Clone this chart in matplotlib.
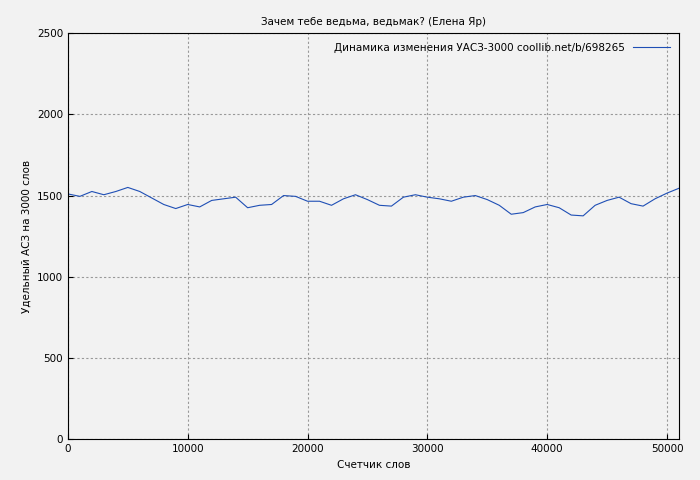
import matplotlib
matplotlib.use("Agg")
import matplotlib.pyplot as plt

words = list(range(0, 52000, 1000))
values = [1510, 1495, 1525, 1505, 1525, 1550, 1525, 1485, 1445, 1420,
          1445, 1430, 1470, 1480, 1490, 1425, 1440, 1445, 1500, 1495,
          1465, 1465, 1440, 1480, 1505, 1475, 1440, 1435, 1490, 1505,
          1490, 1480, 1465, 1490, 1500, 1475, 1440, 1385, 1395, 1430,
          1445, 1425, 1380, 1375, 1440, 1470, 1490, 1450, 1435, 1480,
          1515, 1545]

fig = plt.figure(figsize=(7, 4.8), dpi=100, facecolor="#f2f2f2")
ax = fig.add_axes([0.097, 0.085, 0.873, 0.846])
ax.set_facecolor("#f2f2f2")
ax.plot(words, values, color="#1f4fb5", lw=0.8,
        label="Динамика изменения УАСЗ-3000 coollib.net/b/698265")
ax.set_xlim(0, 51000)
ax.set_ylim(0, 2500)
ax.set_xticks(range(0, 51000, 10000))
ax.set_yticks(range(0, 2501, 500))
ax.grid(True, color="#999999", linestyle=(0, (2, 2)), lw=0.8)
ax.tick_params(labelsize=7.5, direction="in")
ax.set_xlabel("Счетчик слов", fontsize=7.5)
ax.set_ylabel("Удельный АСЗ на 3000 слов", fontsize=7.5)
ax.set_title("Зачем тебе ведьма, ведьмак? (Елена Яр)", fontsize=7.5)
leg = ax.legend(loc="upper right", fontsize=7.5, frameon=False,
                markerfirst=False, handlelength=3.5)
fig.savefig("out.png", facecolor=fig.get_facecolor())
